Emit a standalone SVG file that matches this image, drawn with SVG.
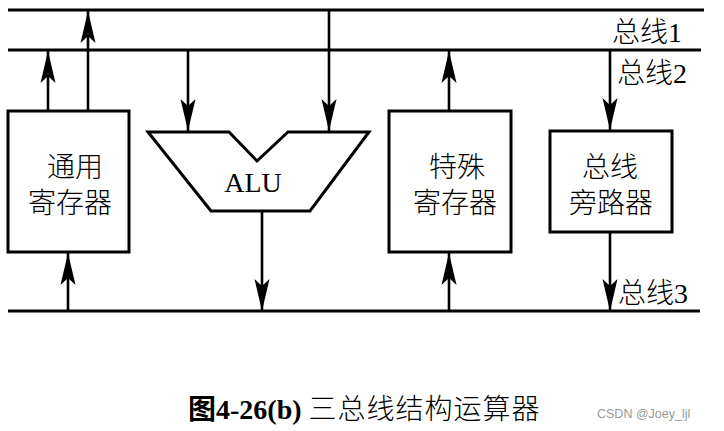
<svg xmlns="http://www.w3.org/2000/svg" width="724" height="431" viewBox="0 0 724 431">
<style>
.bus{stroke:#000;stroke-width:3;fill:none}
.ar{stroke:#000;stroke-width:2.6;fill:none;marker-end:url(#ah)}
.box{stroke:#000;stroke-width:3;fill:#fff}
.t{font-family:"Liberation Serif","Noto Sans CJK SC",serif;fill:#000}
.lbl{font-size:28px;font-weight:300}
.nt{font-size:28px;text-anchor:middle;font-weight:300}
</style>
<defs>
<marker id="ah" markerUnits="userSpaceOnUse" viewBox="-32 -8 33 16" markerWidth="33" markerHeight="16" refX="0" refY="0" orient="auto" overflow="visible">
<path d="M0,0 L-32,-7.5 L-25,0 L-32,7.5 Z" fill="#000"/>
</marker>
</defs>
<g id="buses">
<line class="bus" x1="8" y1="10" x2="704" y2="10"/>
<line class="bus" x1="8" y1="50" x2="701" y2="50"/>
<line class="bus" x1="8" y1="311" x2="700" y2="311"/>
<text class="t lbl" x="612" y="42">总线1</text>
<text class="t lbl" x="617" y="83">总线2</text>
<text class="t lbl" x="618" y="303">总线3</text>
</g>
<g id="connectors">
<line class="ar" x1="48" y1="111" x2="48" y2="51"/>
<line class="ar" x1="88" y1="111" x2="88" y2="11"/>
<line class="ar" x1="68" y1="311" x2="68" y2="253"/>
<line class="ar" x1="188" y1="50" x2="188" y2="131"/>
<line class="ar" x1="329" y1="10" x2="329" y2="131"/>
<line class="ar" x1="262" y1="211" x2="262" y2="311"/>
<line class="ar" x1="449" y1="111" x2="449" y2="51"/>
<line class="ar" x1="449" y1="311" x2="449" y2="253"/>
<line class="ar" x1="610" y1="50" x2="610" y2="130"/>
<line class="ar" x1="610" y1="232" x2="610" y2="311"/>
</g>
<g id="general-reg">
<rect class="box" x="8" y="111" width="121" height="141"/>
<text class="t nt" x="75" y="177">通用</text>
<text class="t nt" x="70" y="213">寄存器</text>
</g>
<g id="alu">
<path class="box" d="M148,132 L229,132 L257,161 L288,132 L369,132 L310,211 L211,211 Z"/>
<text class="t" x="253" y="192" font-size="28" text-anchor="middle">ALU</text>
</g>
<g id="special-reg">
<rect class="box" x="389" y="111" width="122" height="141"/>
<text class="t nt" x="457" y="177">特殊</text>
<text class="t nt" x="455" y="213">寄存器</text>
</g>
<g id="bypass">
<rect class="box" x="550" y="131" width="122" height="101"/>
<text class="t nt" x="610" y="177">总线</text>
<text class="t nt" x="611" y="213">旁路器</text>
</g>
<g id="caption">
<text class="t" x="188" y="419" font-size="28"><tspan font-weight="bold">图4-26(b)</tspan> <tspan font-weight="300" letter-spacing="1">三总线结构运算器</tspan></text>
<text x="597" y="418" font-family="Liberation Sans, sans-serif" font-size="12.5" fill="#999">CSDN @Joey_ljl</text>
</g>
</svg>
